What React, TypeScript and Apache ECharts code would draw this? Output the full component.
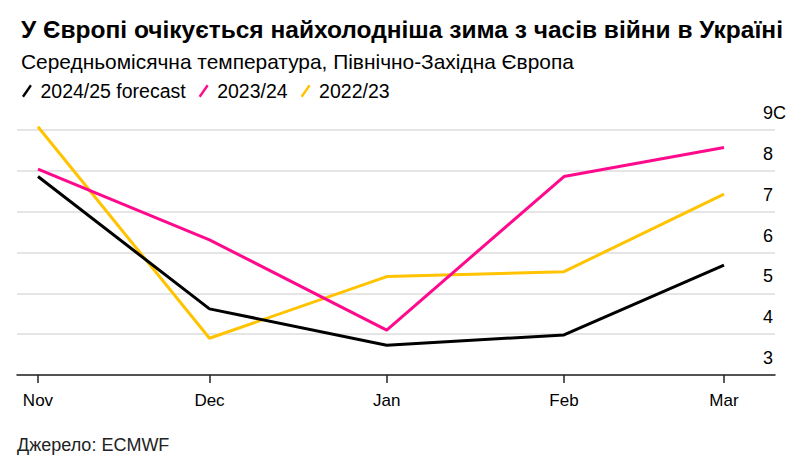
import React, { useEffect, useRef } from "react";
import * as echarts from "echarts";

const titleText = "У Європі очікується найхолодніша зима з часів війни в Україні";
const subtitleText = "Середньомісячна температура, Північно-Західна Європа";
const sourceText = "Джерело: ECMWF";

const months = ["2024-11-01", "2024-12-01", "2025-01-01", "2025-02-01", "2025-03-01"];
const monthLabels = ["Nov", "Dec", "Jan", "Feb", "Mar"];

const seriesNames = ["2024/25 forecast", "2023/24", "2022/23"];
const forecast2425 = [7.86, 4.62, 3.73, 3.98, 5.69];
const season2324 = [8.04, 6.31, 4.1, 7.86, 8.57];
const season2223 = [9.08, 3.9, 5.41, 5.53, 7.43];

const yTicks = [3, 4, 5, 6, 7, 8, 9];
const yTickLabels = ["3", "4", "5", "6", "7", "8", "9C"];

const colors = ["#000000", "#ff0a8c", "#ffc300"];

const DAY = 86400000;
const toTs = (d: string) => Date.parse(d + "T00:00:00Z");

export default function App() {
  const ref = useRef<HTMLDivElement>(null);
  useEffect(() => {
    if (!ref.current) return;
    const chart = echarts.init(ref.current, undefined, { renderer: "svg" });
    const t0 = toTs(months[0]);
    // day offsets from the first month
    const xs = months.map((m) => Math.round((toTs(m) - t0) / DAY));
    const mk = (vals: number[]) => xs.map((x, i) => [x, vals[i]]);
    const allValues = [forecast2425, season2324, season2223];
    const font = "'Liberation Sans', Arial, sans-serif";
    const legendIcon = "path://M0,13 L9,0 L11.2,1.7 L2.2,14.7 Z";
    chart.setOption({
      animation: false,
      backgroundColor: "#ffffff",
      textStyle: { fontFamily: font },
      title: [
        {
          text: titleText,
          left: 16,
          top: 12,
          textStyle: { fontFamily: font, fontSize: 24.5, fontWeight: "bold", color: "#000" },
        },
        {
          text: subtitleText,
          left: 16,
          top: 46,
          textStyle: { fontFamily: font, fontSize: 20.9, fontWeight: "normal", color: "#000" },
        },
      ],
      legend: {
        left: 17,
        top: 76,
        itemWidth: 11,
        itemHeight: 13,
        itemGap: 13,
        icon: legendIcon,
        data: seriesNames,
        textStyle: { fontFamily: font, fontSize: 19.5, color: "#000", padding: [0, 0, 0, 3] },
      },
      graphic: [
        {
          type: "text",
          left: 17,
          top: 436,
          style: { text: sourceText, fontFamily: font, fontSize: 18, fill: "#222" },
        },
      ],
      grid: { left: 17, right: 26, top: 130, bottom: 91, containLabel: false },
      xAxis: {
        type: "value",
        min: xs[0] - 3.67,
        max: xs[xs.length - 1] + 8.92,
        axisLine: { show: true, lineStyle: { color: "#222", width: 1.5 } },
        axisTick: { show: true, length: 8, customValues: xs, lineStyle: { color: "#222", width: 1.5 } },
        axisLabel: {
          customValues: xs,
          margin: 17,
          fontSize: 17,
          color: "#000",
          fontFamily: font,
          formatter: (v: number) => {
            const i = xs.indexOf(Math.round(v));
            return i >= 0 ? monthLabels[i] : "";
          },
        },
        splitLine: { show: false },
      },
      yAxis: {
        type: "value",
        position: "right",
        min: yTicks[0],
        max: yTicks[yTicks.length - 1],
        interval: 1,
        axisLine: { show: false },
        axisTick: { show: false },
        axisLabel: {
          inside: true,
          align: "left",
          verticalAlign: "bottom",
          margin: 12,
          padding: [0, 0, 8, 0],
          fontSize: 18,
          color: "#000",
          fontFamily: font,
          formatter: (v: number) => {
            const i = yTicks.indexOf(v);
            return i >= 0 ? yTickLabels[i] : "";
          },
        },
        splitLine: { show: true, lineStyle: { color: "#dcdcdc", width: 1.5 } },
      },
      series: seriesNames.map((name, i) => ({
        name,
        type: "line",
        data: mk(allValues[i]),
        symbol: "none",
        clip: false,
        z: 5 - i,
        lineStyle: { color: colors[i], width: 3 },
        itemStyle: { color: colors[i] },
      })),
    });
    return () => chart.dispose();
  }, []);
  return (
    <div
      ref={ref}
      style={{ position: "absolute", left: 0, top: 0, width: 801, height: 466 }}
    />
  );
}
